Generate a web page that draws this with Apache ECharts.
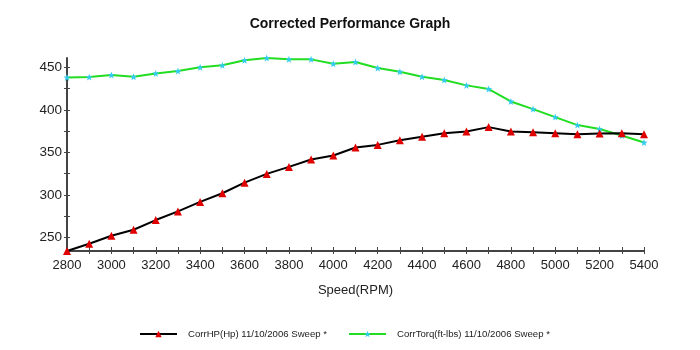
<!DOCTYPE html>
<html>
<head>
<meta charset="utf-8">
<script src="https://cdn.jsdelivr.net/npm/echarts@6/dist/echarts.min.js"></script>
<style>html,body{margin:0;padding:0;background:#fff}#c{width:700px;height:350px}</style>
</head>
<body>
<div id="c"></div>
<script>
var rpm = [2800,2900,3000,3100,3200,3300,3400,3500,3600,3700,3800,3900,4000,4100,4200,4300,4400,4500,4600,4700,4800,4900,5000,5100,5200,5300,5400];
var corrHP = [234,242.5,252,259,270.4,280.6,291.7,301.9,314.4,324.7,332.9,341.6,346.3,355.7,358.8,364.3,368.3,372.6,374.6,379.7,374.6,373.8,372.6,371.4,372.2,372.6,371.4];
var corrTorq = [438.2,438.6,441,439,442.9,445.7,450,452.4,458.3,461,459.4,459.4,454.3,456.3,449.2,444.9,439,435.1,428.8,424.5,409.9,400.9,391.5,382.1,377.4,369.8,361.6];
var yLabels = [250,300,350,400,450];
var yTicks = [250,275,300,325,350,375,400,425,450];
var xLabels = [2800,3000,3200,3400,3600,3800,4000,4200,4400,4600,4800,5000,5200,5400];

var hpData = rpm.map(function(r,i){return [r,corrHP[i]];});
var tqData = rpm.map(function(r,i){return [r,corrTorq[i]];});
var star = 'path://M0,-10 L2.4,-3.3 9.5,-3.1 3.9,1.3 5.9,8.1 0,4.1 -5.9,8.1 -3.9,1.3 -9.5,-3.1 -2.4,-3.3 Z';
var axisCol = '#444';
var font = 'Liberation Sans, Arial, sans-serif';

var chart = echarts.init(document.getElementById('c'));
chart.setOption({
  animation:false,
  title:{text:'Corrected Performance Graph',left:'center',top:12,
    textStyle:{fontSize:14,fontWeight:'bold',color:'#111',fontFamily:font}},
  grid:{left:67,right:56,top:58,bottom:99},
  legend:{bottom:6,left:134,itemWidth:37,itemHeight:8,itemGap:21,
    textStyle:{fontSize:9.6,color:'#222',fontFamily:font,padding:[0,0,0,6]},
    data:['CorrHP(Hp) 11/10/2006 Sweep *','CorrTorq(ft-lbs) 11/10/2006 Sweep *']},
  xAxis:[{type:'value',min:2800,max:5400,interval:100,
    name:'Speed(RPM)',nameLocation:'middle',nameGap:33,
    nameTextStyle:{fontSize:13,color:'#222',fontFamily:font},
    axisLine:{lineStyle:{color:axisCol,width:2}},
    axisTick:{show:true,length:3,lineStyle:{color:axisCol}},
    axisLabel:{customValues:xLabels,fontSize:13,color:'#222',fontFamily:font,margin:8,
      formatter:function(v){return String(v);}},
    splitLine:{show:false}},
    {type:'value',position:'bottom',min:2800,max:5400,interval:100,
    axisLine:{show:false},axisTick:{show:true,inside:true,length:4,lineStyle:{color:axisCol}},
    axisLabel:{show:false},splitLine:{show:false}}],
  yAxis:[{type:'value',min:234,max:461,
    axisLine:{show:true,lineStyle:{color:axisCol,width:2}},
    axisTick:{show:true,length:3,customValues:yTicks,lineStyle:{color:axisCol}},
    axisLabel:{customValues:yLabels,fontSize:13.5,color:'#222',fontFamily:font,margin:5},
    splitLine:{show:false}},
    {type:'value',position:'left',min:234,max:461,
    axisLine:{show:false},axisTick:{show:true,inside:true,length:3,customValues:yTicks,lineStyle:{color:axisCol}},
    axisLabel:{show:false},splitLine:{show:false}}],
  series:[
    {name:'CorrHP(Hp) 11/10/2006 Sweep *',type:'line',data:hpData,
     symbol:'triangle',symbolSize:8,lineStyle:{color:'#000',width:2},
     itemStyle:{color:'#e00000'},z:3},
    {name:'CorrTorq(ft-lbs) 11/10/2006 Sweep *',type:'line',data:tqData,
     symbol:star,symbolSize:7,lineStyle:{color:'#22dd22',width:2},
     itemStyle:{color:'#33ccee'},z:2}
  ]
});
</script>
</body>
</html>
